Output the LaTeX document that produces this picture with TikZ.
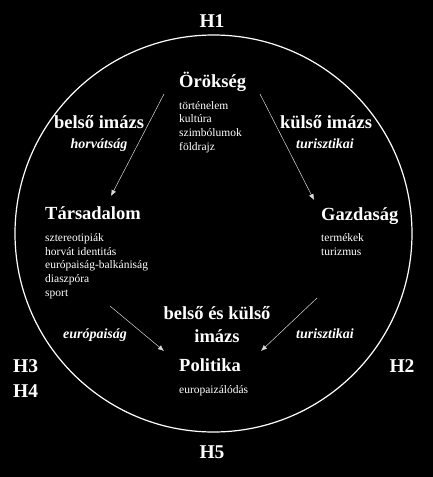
\documentclass[tikz,border=0pt]{standalone}
\usepackage{fontspec}
\setmainfont{Liberation Serif}
\usepackage{tikz}
\usetikzlibrary{positioning,arrows.meta}
\definecolor{grisclair}{rgb}{0.85, 0.85, 0.85}

\begin{document}
\begin{tikzpicture}[x=1pt,y=-1pt]
        \tikzset{
          node distance=14pt,
          texte/.style={text=white,inner sep=0pt},
          titre/.style={texte,anchor=base west,
            font=\fontsize{18.5}{22}\selectfont\bfseries},
          liste/.style={texte,align=left,
            font=\fontsize{11.5}{13.8}\selectfont},
          imazs/.style={texte,anchor=base,align=center,
            font=\fontsize{18.5}{23}\selectfont\bfseries},
          imazs italique/.style={texte,anchor=base,
            font=\fontsize{14}{16}\selectfont\bfseries\itshape},
          hipotezis/.style={texte,align=left,
            font=\fontsize{19.5}{25}\selectfont\bfseries},
          fleche/.style={
            line cap=round,-{Latex[length=6pt,width=5pt]},line width=0.5pt,
            draw=grisclair,
          },
          }
        \fill[black] (0,0) rectangle (433,477);
        \draw[white, line width=1.2pt] (213.5,233.5) circle[radius=198.5];

        % blocs
        \node[titre] (orokseg) at (179,87) {Örökség};
        \node[liste, below=of orokseg.base west, anchor=north west] (orokseg liste)
          {történelem\\kultúra\\szimbólumok\\földrajz};
        \node[titre] (tarsadalom) at (45,219) {Társadalom};
        \node[liste, below=of tarsadalom.base west, anchor=north west] (tarsadalom liste)
          {sztereotipiák\\horvát identitás\\európaiság-balkániság\\diaszpóra\\sport};
        \node[titre] (gazdasag) at (321,220) {Gazdaság};
        \node[liste, below=13pt of gazdasag.base west, anchor=north west] (gazdasag liste)
          {termékek\\turizmus};
        \node[titre] (politika) at (179,371) {Politika};
        \node[liste, below=of politika.base west, anchor=north west] (politika liste)
          {europaizálódás};

        % imázs
        \node[imazs] (belso) at (99,128) {belső imázs};
        \node[imazs italique] (horvatsag) at (99,148) {horvátság};
        \node[imazs] (kulso) at (326,128) {külső imázs};
        \node[imazs italique] (turisztikai) at (325,148) {turisztikai};
        \node[imazs, anchor=center] (belso kulso) at (217,325) {belső és külső\\imázs};
        \node[imazs italique] (europaisag) at (95,338) {európaiság};
        \node[imazs italique] (turisztikai2) at (325,338) {turisztikai};

        % hipotézisek
        \node[hipotezis, anchor=base] (h1) at (212,27) {H1};
        \node[hipotezis, anchor=base] (h2) at (402,372) {H2};
        \node[hipotezis, anchor=north west] (h34) at (13,359.5) {H3\\H4};
        \node[hipotezis, anchor=base] (h5) at (212,458) {H5};

        \coordinate (o bal) at (164,94);
        \coordinate (o jobb) at (260,94);
        \coordinate (t fent) at (111,196);
        \coordinate (g fent) at (314,200);
        \coordinate (t lent) at (110,306);
        \coordinate (g lent) at (317,298);
        \coordinate (p bal) at (164,351);
        \coordinate (p jobb) at (261,351);

        \draw[fleche] (o bal) -- (t fent);
        \draw[fleche] (o jobb) -- (g fent);
        \draw[fleche] (t lent) -- (p bal);
        \draw[fleche] (g lent) -- (p jobb);
      \end{tikzpicture}
\end{document}
